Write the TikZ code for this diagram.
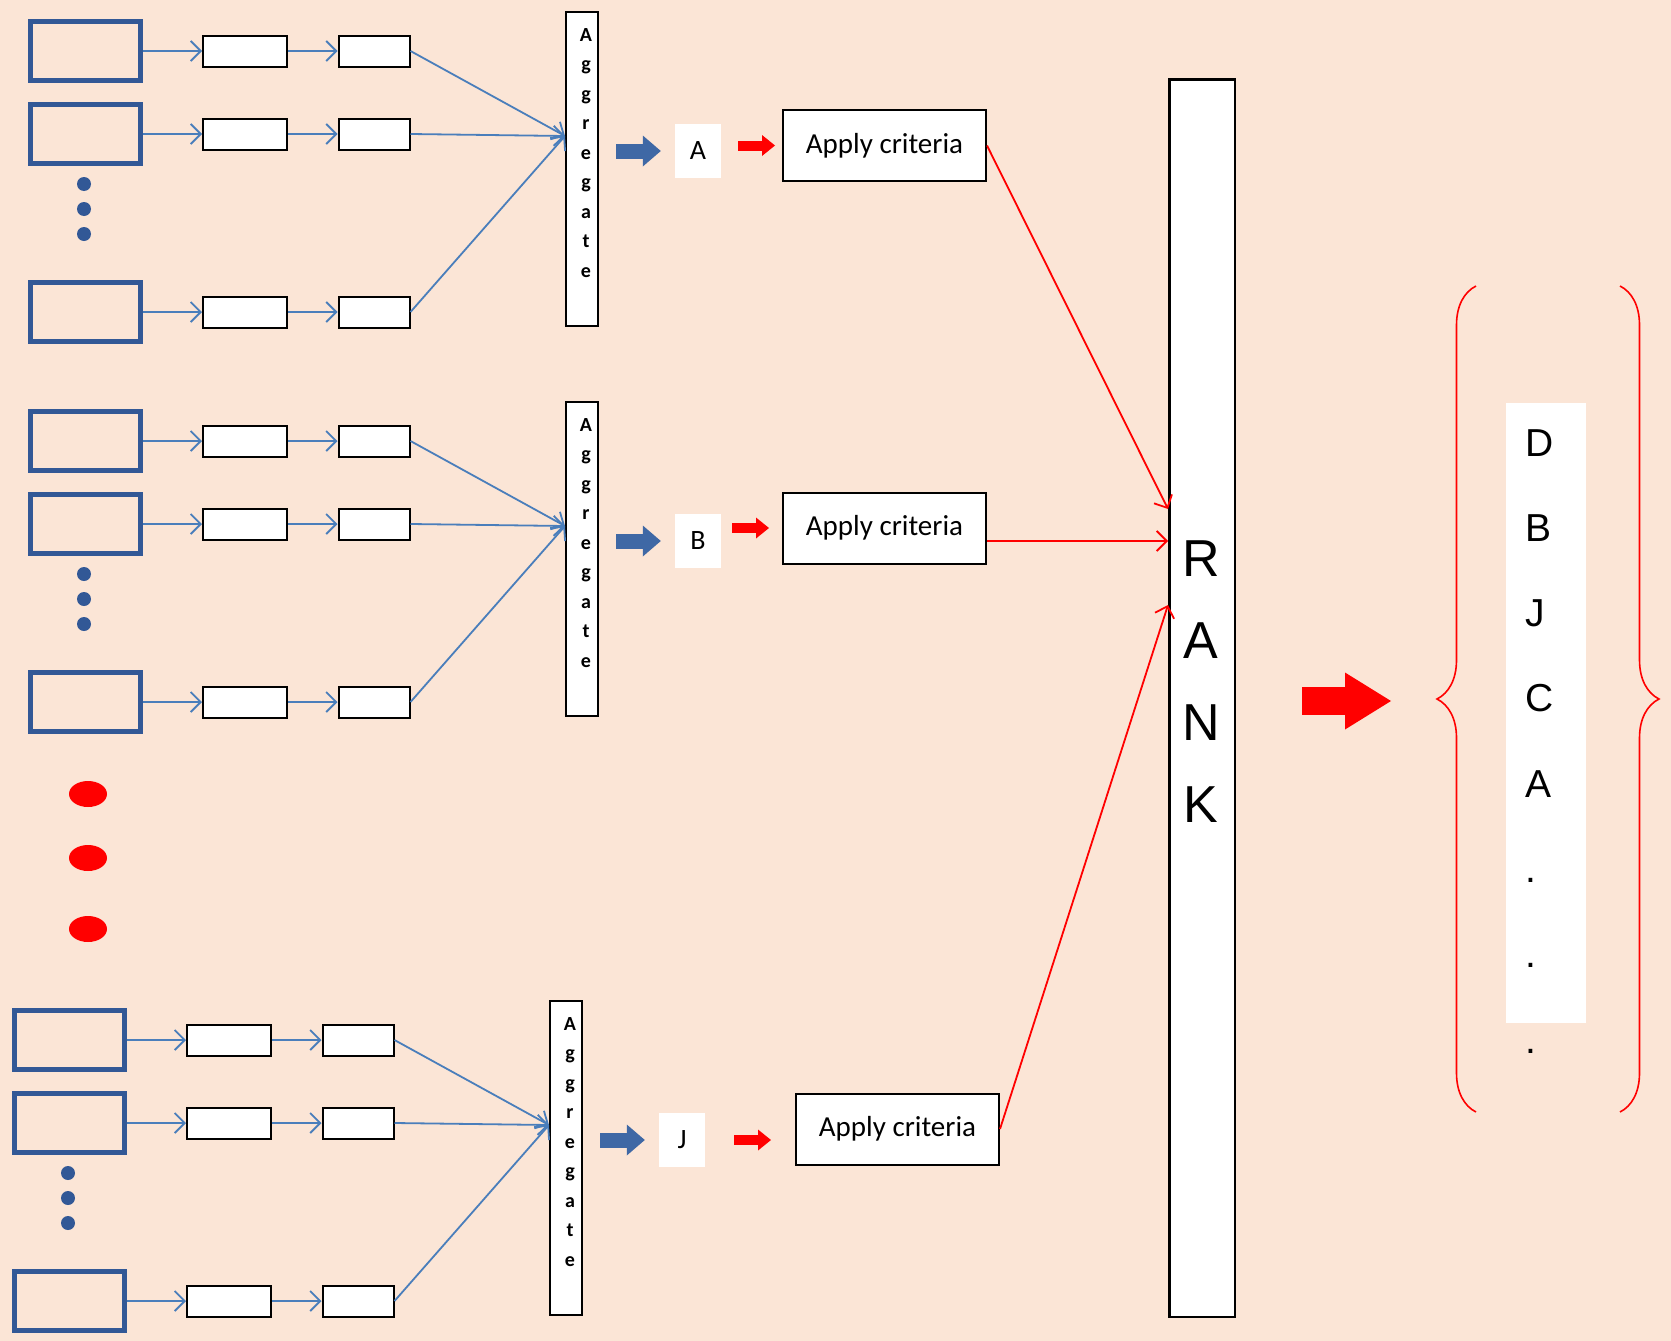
\documentclass[tikz,border=0pt]{standalone}
\usepackage{fontspec}
\setmainfont{Carlito}
\newfontfamily\arialfont{Liberation Sans}
\usetikzlibrary{arrows.meta,decorations.pathreplacing}
\definecolor{peach}{RGB}{251,229,214}
\definecolor{boxblue}{RGB}{50,88,150}
\definecolor{lineblue}{RGB}{74,126,187}
\definecolor{fatblue}{RGB}{63,104,165}

\begin{document}
\begin{tikzpicture}[x=1pt,y=-1pt]
\tikzset{bigbox/.style={draw=boxblue,line width=5pt,inner sep=0pt,minimum width=110pt,minimum height=59pt}}
\tikzset{smallbox/.style={draw,fill=white,line width=2pt,inner sep=0pt,minimum height=31pt}}
\tikzset{aggbox/.style={draw,fill=white,line width=2pt,inner sep=0pt,minimum width=32pt,minimum height=314pt}}
\tikzset{aggtext/.style={inner sep=0pt,align=center,font=\bfseries\fontsize{20}{29.5}\selectfont}}
\tikzset{letterbox/.style={fill=white,inner sep=0pt,minimum width=46pt,minimum height=54pt,font=\fontsize{28}{34}\selectfont}}
\tikzset{critbox/.style={draw,fill=white,line width=2pt,inner sep=0pt,minimum width=203pt,minimum height=71pt,font=\fontsize{29}{35}\selectfont}}
\tikzset{rankbox/.style={draw,fill=white,line width=2.5pt,inner sep=0pt,minimum width=65.5pt,minimum height=1237.5pt}}
\tikzset{ranktext/.style={inner sep=0pt,align=center,font=\arialfont\fontsize{52}{82}\selectfont}}
\tikzset{listtext/.style={inner sep=0pt,anchor=base west,font=\arialfont\fontsize{39}{39}\selectfont}}
\tikzset{blueline/.style={draw=lineblue,line width=1.8pt,-{Straight Barb[length=10pt,width=20pt]}}}
\tikzset{redline/.style={draw=red,line width=1.8pt,-{Straight Barb[length=10pt,width=20pt]}}}
\tikzset{bluefat/.style={draw=fatblue,line width=15pt,shorten <=17pt,shorten >=14pt,-{Triangle[length=18pt,width=31pt,line width=0pt]}}}
\tikzset{redfat/.style={draw=red,line width=10pt,-{Triangle[length=13pt,width=21pt,line width=0pt]}}}
\tikzset{redbig/.style={draw=red,line width=28pt,shorten <=66pt,shorten >=46pt,-{Triangle[length=46pt,width=57pt,line width=0pt]}}}

\fill[peach] (0,0) rectangle (1671,1341);
\useasboundingbox (0,0) rectangle (1671,1341);

\foreach \g/\dx/\dy/\lab in {1/0/0/A,2/0/390/B,3/-16/989/J}{
\begin{scope}[shift={(\dx,\dy)}]
  \foreach \r/\y in {1/51,2/134,3/312}{
    \node[bigbox] (big\g\r) at (85,\y) {};
    \node[smallbox,minimum width=84pt] (a\g\r) at (245,\y) {};
    \node[smallbox,minimum width=71pt] (b\g\r) at (374,\y) {};
    \draw[blueline] (big\g\r) -- (a\g\r);
    \draw[blueline] (a\g\r) -- (b\g\r);
  }
  \foreach \y in {184,209,234}
    \fill[boxblue] (84,\y) circle (7pt);
  \node[aggbox] (agg\g) at (582,169) {};
  \node[aggtext] at (586,153) {A\\g\\g\\r\\e\\g\\a\\t\\e};
  \coordinate (in\g) at (565,136);
  \foreach \r in {1,2,3}
    \draw[blueline] (b\g\r.east) -- (in\g);
  \node[letterbox] (lab\g) at (698,151) {\lab};
  \draw[bluefat] (agg\g.east |- lab\g) -- (lab\g.west);
\end{scope}}

\foreach \y in {794,858,929}
  \fill[red] (88,\y) ellipse (19pt and 13pt);

\node[critbox] (ap1) at (884.5,145.5) {Apply criteria};
\node[critbox] (ap2) at (884.5,528) {Apply criteria};
\node[critbox] (ap3) at (897.5,1129) {Apply criteria};
\draw[redfat,shorten <=17pt,shorten >=7pt] (lab1.east |- ap1) -- (ap1.west);
\draw[redfat,shorten <=11pt,shorten >=13pt] (lab2.east |- ap2) -- (ap2.west);
\draw[redfat,shorten <=29pt,shorten >=24pt] (lab3.east) -- (ap3.west |- lab3);

\node[rankbox] (rank) at (1202,698) {};
\node[ranktext] at (1201,682) {R\\A\\N\\K};
\coordinate (r1) at (1168,509);
\coordinate (r2) at (1168,541);
\coordinate (r3) at (1168,605);
\draw[redline] (ap1.east) -- (r1);
\draw[redline] (ap2.east |- r2) -- (r2);
\draw[redline] (ap3.east) -- (r3);

\coordinate (lb) at (1437,701);
\draw[redbig] (rank.east |- lb) -- (lb);
\draw[red,line width=1.6pt,decorate,decoration={brace,amplitude=39pt}] (1476,1112) -- (1476,286);
\draw[red,line width=1.6pt,decorate,decoration={brace,amplitude=39pt}] (1620,286) -- (1620,1112);

\node[fill=white,inner sep=0pt,minimum width=80pt,minimum height=620pt] (listbg) at (1546,713) {};
\foreach \t [count=\i] in {D,B,J,C,A,.,.,.}
  \node[listtext] (item\i) at (1525,{456+85.3*(\i-1)}) {\t};
\end{tikzpicture}
\end{document}
